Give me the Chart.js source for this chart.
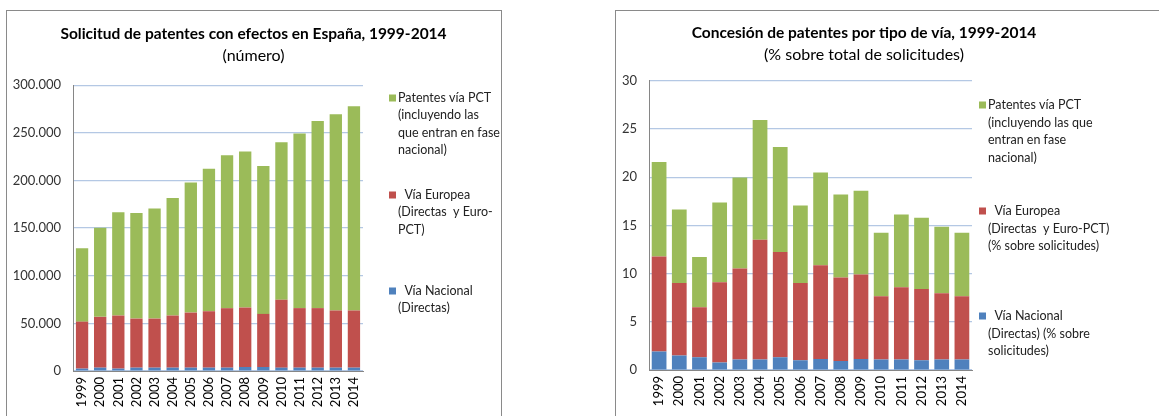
<!DOCTYPE html>
<html>
<head>
<meta charset="utf-8">
<script src="https://cdn.jsdelivr.net/npm/chart.js"></script>
<style>
  body { margin: 0; background: #fff; width: 1159px; height: 416px; overflow: hidden; position: relative; }
  .caja { position: absolute; border: 1px solid #8a8a8a; background: #fff; }
  canvas { position: absolute; }
</style>
</head>
<body>
<div class="caja" style="left:6px; top:10px; width:494px; height:420px;"></div>
<div class="caja" style="left:615px; top:10px; width:560px; height:420px;"></div>
<canvas id="graficoSolicitudes" style="left:7px; top:11px;" width="493" height="405"></canvas>
<canvas id="graficoConcesion" style="left:617px; top:11px;" width="494" height="405"></canvas>
<script>
// años
const anos = ['1999','2000','2001','2002','2003','2004','2005','2006','2007','2008','2009','2010','2011','2012','2013','2014'];

// Solicitudes (número)
const solNacional = [2500,3500,2500,3500,3500,3500,3500,3500,3500,4200,4200,3500,3500,3500,3500,3500];
const solEuropea = [49300,53300,55700,51500,51500,54700,57800,59200,62400,62400,55700,71300,62500,62500,60000,60000];
const solPCT = [76900,93400,108500,110700,115600,123300,136500,149500,160400,163600,155100,165200,183100,196200,205800,214200];

// Concesiones (% sobre total de solicitudes)
const conNacional = [1.92,1.50,1.33,0.77,1.08,1.08,1.33,1.01,1.15,0.94,1.15,1.08,1.08,1.01,1.08,1.08];
const conEuropea = [9.84,7.53,5.19,8.33,9.45,12.42,10.91,8.02,9.70,8.65,8.76,6.56,7.50,7.40,6.87,6.56];
const conPCT = [9.80,7.61,5.20,8.27,9.42,12.42,10.89,8.03,9.63,8.62,8.68,6.59,7.54,7.39,6.91,6.59];

const legendaSol = [
  ['Patentes vía PCT', '(incluyendo las', 'que entran en fase', 'nacional)'],
  ['  Vía Europea', '(Directas  y Euro-', 'PCT)'],
  ['  Vía Nacional', '(Directas)']
];
const legendaCon = [
  ['Patentes vía PCT', '(incluyendo las que', 'entran en fase', 'nacional)'],
  ['  Vía Europea', '(Directas  y Euro-PCT)', '(% sobre solicitudes)'],
  ['  Vía Nacional', '(Directas) (% sobre', 'solicitudes)']
];

const AZUL = '#4f81bd', ROJO = '#c0504d', VERDE = '#9bbb59';
const FUENTE = 'Lato, "Open Sans", sans-serif';

function miles(v) {
  return String(v).replace(/\B(?=(\d{3})+(?!\d))/g, '.');
}

// leyenda a la derecha, con varias lineas por serie
const leyendaPlugin = {
  id: 'leyendaMulti',
  afterDraw(chart, args, opts) {
    const ctx = chart.ctx;
    ctx.save();
    ctx.font = '12.5px ' + FUENTE;
    ctx.textBaseline = 'middle';
    ctx.textAlign = 'left';
    const orden = [2, 1, 0];
    orden.forEach((dsIndex, k) => {
      const ds = chart.data.datasets[dsIndex];
      const y0 = opts.inicios[k];
      ctx.fillStyle = ds.backgroundColor;
      ctx.fillRect(opts.xCuadro, y0 - 3.5, 7, 7);
      ctx.fillStyle = '#222';
      opts.textos[k].forEach((t, i) => ctx.fillText(t, opts.xTexto, y0 + i * opts.interlinea));
    });
    ctx.restore();
  }
};

function crearCarta(id, nac, eur, pct, cfg) {
  return new Chart(document.getElementById(id), {
    type: 'bar',
    data: {
      labels: anos,
      datasets: [
        { label: 'Vía Nacional', data: nac, backgroundColor: AZUL },
        { label: 'Vía Europea', data: eur, backgroundColor: ROJO },
        { label: 'Patentes vía PCT', data: pct, backgroundColor: VERDE }
      ]
    },
    plugins: [leyendaPlugin],
    options: {
      responsive: false,
      animation: false,
      datasets: { bar: { categoryPercentage: 1, barPercentage: cfg.barra } },
      layout: { padding: 0 },
      plugins: {
        legend: { display: false },
        tooltip: { enabled: false },
        title: {
          display: true, text: cfg.titulo, color: '#000',
          font: { family: FUENTE, size: 15.5, weight: 'bold' },
          padding: { top: cfg.tituloTop, bottom: 0 }
        },
        subtitle: {
          display: true, text: cfg.subtitulo, color: '#000',
          font: { family: FUENTE, size: 16 },
          padding: { top: 2.5, bottom: cfg.subBottom }
        },
        leyendaMulti: cfg.leyenda
      },
      scales: {
        x: {
          stacked: true,
          grid: { display: false, drawTicks: false },
          border: { color: '#868686', width: 1 },
          ticks: { color: '#000', font: { family: FUENTE, size: 13 }, minRotation: 90, maxRotation: 90, padding: 6, autoSkip: false },
          afterFit(s) { s.height = cfg.altoX; }
        },
        y: {
          stacked: true,
          min: 0, max: cfg.max,
          grid: { color: '#b4c8e4', lineWidth: 1.2, drawTicks: false },
          border: { color: '#868686', width: 1 },
          ticks: { stepSize: cfg.paso, color: '#333', font: { family: FUENTE, size: 13 }, padding: 12, callback: cfg.formato },
          afterFit(s) { s.width = cfg.anchoY; }
        },
        reserva: {
          type: 'linear', position: 'right', display: true,
          grid: { display: false, drawTicks: false },
          border: { display: false },
          ticks: { display: false },
          afterFit(s) { s.width = cfg.reserva; }
        }
      }
    }
  });
}

crearCarta('graficoSolicitudes', solNacional, solEuropea, solPCT, {
  titulo: 'Solicitud de patentes con efectos en España, 1999-2014',
  subtitulo: '(número)',
  tituloTop: 14, subBottom: 19.8,
  max: 300000, paso: 50000, formato: v => miles(v),
  anchoY: 66, reserva: 137, altoX: 45, barra: 0.68,
  leyenda: { xCuadro: 382, xTexto: 391, inicios: [87, 184, 280], interlinea: 17.3, textos: legendaSol }
});

crearCarta('graficoConcesion', conNacional, conEuropea, conPCT, {
  titulo: 'Concesión de patentes por tipo de vía, 1999-2014',
  subtitulo: '(% sobre total de solicitudes)',
  tituloTop: 13, subBottom: 16.4,
  max: 30, paso: 5, formato: v => v,
  anchoY: 32, reserva: 139, altoX: 46, barra: 0.73,
  leyenda: { xCuadro: 362, xTexto: 371, inicios: [94, 200, 305], interlinea: 17.5, textos: legendaCon }
});
</script>
</body>
</html>
